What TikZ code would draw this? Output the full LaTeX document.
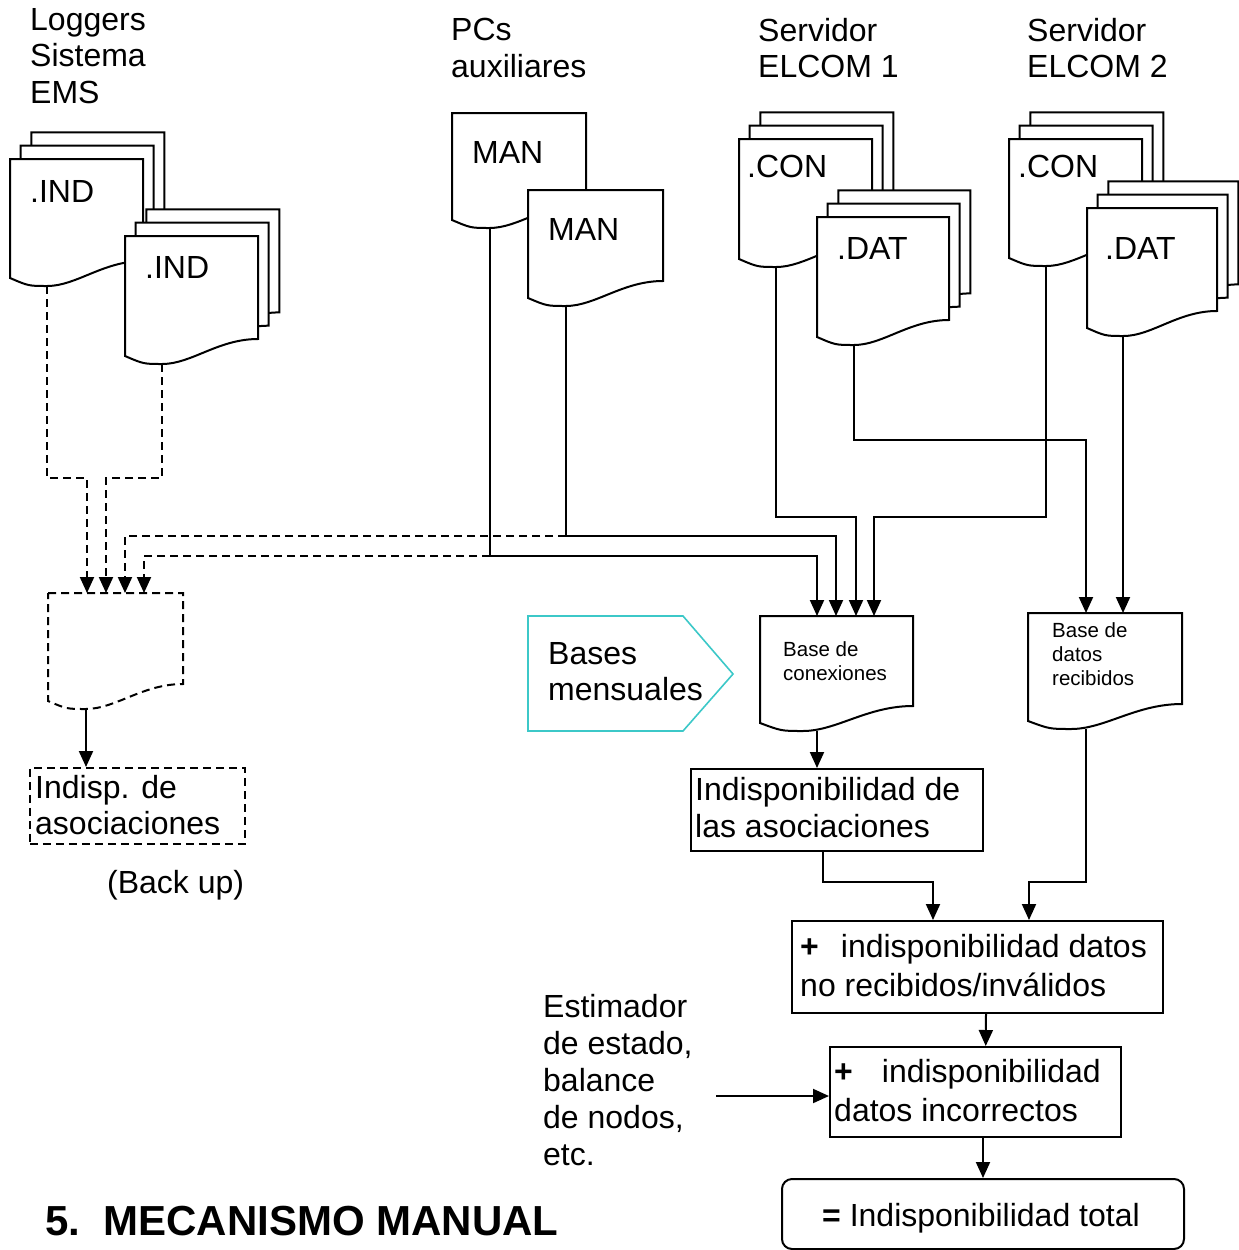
\documentclass[tikz,border=0pt]{standalone}
\usepackage{fontspec}
\setmainfont{Liberation Sans}
\usetikzlibrary{arrows.meta,calc}
\definecolor{tq}{RGB}{60,200,200}
\tikzset{
  sheet/.style={draw, fill=white, line width=2pt},
  line/.style={line width=2pt},
  dsh/.style={dash pattern=on 8pt off 5pt},
  arr/.style={-{Triangle[width=14pt,length=16pt]}},
  box/.style={draw, line width=2pt, inner sep=0pt, anchor=north west},
  txt/.style={inner sep=0pt, align=left, font=\fontsize{32}{36.5}\selectfont},
  smalltxt/.style={inner sep=0pt, align=left, font=\fontsize{20.5}{24}\selectfont},
  pics/docsh/.style n args={2}{code={
    \path[sheet] (0,0) -- (#1,0) -- (#1,#2-17) .. controls (0.7*#1,#2-17) and (0.5*#1,#2+8) .. (0.28*#1,#2+8) .. controls (0.14*#1,#2+8) .. (0,#2) -- cycle;
    \coordinate (-nw) at (0,0);
    \coordinate (-b) at ({round(0.28*#1)},#2+8);
  }},
  pics/docstack/.style n args={2}{code={
    \foreach \k in {2,1}{
      \path[sheet, xshift=10.7*\k, yshift=13.3*\k] (0,0) -- (#1,0) -- (#1,#2-17) .. controls (0.7*#1,#2-17) and (0.5*#1,#2+8) .. (0.28*#1,#2+8) .. controls (0.14*#1,#2+8) .. (0,#2) -- cycle;
    }
    \path[sheet] (0,0) -- (#1,0) -- (#1,#2-17) .. controls (0.7*#1,#2-17) and (0.5*#1,#2+8) .. (0.28*#1,#2+8) .. controls (0.14*#1,#2+8) .. (0,#2) -- cycle;
    \coordinate (-nw) at (0,0);
    \coordinate (-b) at ({round(0.28*#1)},#2+8);
  }},
}
\begin{document}
\begin{tikzpicture}[x=1pt,y=-1pt]
\useasboundingbox (0,0) rectangle (1239,1250);
\clip (0,0) rectangle (1239,1250);

% ---------- documents ----------
\pic (ind1) at (10,159) {docstack={133}{119}};
\pic (ind2) at (125,236) {docstack={133}{120}};
\pic (man1) at (452,113) {docsh={134}{107}};
\pic (man2) at (528,190) {docsh={135}{108}};
\pic (con1) at (739,139) {docstack={133}{120}};
\pic (dat1) at (817,217) {docstack={132}{120}};
\pic (con2) at (1009,139) {docstack={133}{119}};
\pic (dat2) at (1087,208) {docstack={130}{120}};
\pic[dsh] (dd) at (48,593) {docsh={135}{108}};
\pic (bcon) at (760,616) {docsh={153}{107}};
\pic (brec) at (1028,613) {docsh={154}{108}};

% document labels
\node[txt, anchor=base west] (l-ind1) at (30,202) {.IND};
\node[txt, anchor=base west] (l-ind2) at (145,278) {.IND};
\node[txt, anchor=base west] (l-man1) at (472,163) {MAN};
\node[txt, anchor=base west] (l-man2) at (548,240) {MAN};
\node[txt, anchor=base west] (l-con1) at (747,177) {.CON};
\node[txt, anchor=base west] (l-dat1) at (837,259) {.DAT};
\node[txt, anchor=base west] (l-con2) at (1018,177) {.CON};
\node[txt, anchor=base west] (l-dat2) at (1105,259) {.DAT};

% top labels
\node[txt, anchor=north west] (t-log) at (30,8) {Loggers\\Sistema\\EMS};
\node[txt, anchor=north west] (t-pc) at (451,18) {PCs\\auxiliares};
\node[txt, anchor=north west] (t-s1) at (758,18) {Servidor\\ELCOM 1};
\node[txt, anchor=north west] (t-s2) at (1027,18) {Servidor\\ELCOM 2};

% targets on documents
\coordinate (bc1) at ([xshift=57]bcon-nw);
\coordinate (bc2) at ([xshift=76]bcon-nw);
\coordinate (bc3) at ([xshift=96]bcon-nw);
\coordinate (bc4) at ([xshift=114]bcon-nw);
\coordinate (dt1) at ([xshift=39]dd-nw);
\coordinate (dt2) at ([xshift=58]dd-nw);
\coordinate (dt3) at ([xshift=77]dd-nw);
\coordinate (dt4) at ([xshift=96]dd-nw);
\coordinate (br1) at ([xshift=58]brec-nw);

% ---------- connectors top ----------
\draw[line,dsh,arr] (ind1-b) -- ++(0,192) -| (dt1);
\draw[line,dsh,arr] (ind2-b) -- ++(0,114) -| (dt2);
\draw[line,dsh,arr] (man2-b) ++(0,230) -| (dt3);
\draw[line,dsh,arr] (man1-b) ++(0,328) -| (dt4);
\draw[line,arr] (man1-b) -- ++(0,328) -| (bc1);
\draw[line,arr] (man2-b) -- ++(0,230) -| (bc2);
\draw[line,arr] (con1-b) -- ++(0,250) -| (bc3);
\draw[line,arr] (con2-b) -- ++(0,251) -| (bc4);
\draw[line,arr] (dat1-b) -- ++(0,95) -| (br1);
\draw[line,arr] (dat2-b) -- (dat2-b |- brec-nw);

% ---------- Bases mensuales ----------
\draw[tq, line width=1.6pt] (528,616) -- (683,616) -- (733,674) -- (683,731) -- (528,731) -- cycle;
\node[txt, anchor=north west] (t-bm) at (548,642) {Bases\\mensuales};

% base doc labels
\node[smalltxt, anchor=north west] (t-bcon) at (783,641.3) {Base de\\conexiones};
\node[smalltxt, anchor=north west] (t-brec) at (1052,622.3) {Base de\\datos\\recibidos};

% ---------- boxes ----------
\node[box, dsh, line width=1.5pt, minimum width=215, minimum height=76] (idb) at (29,767) {};
\node[txt, anchor=north west] (t-idb) at (35,775) {Indisp. de\\asociaciones};
\node[txt, anchor=base west] (t-bu) at (107,893) {(Back up)};

\node[box, minimum width=292, minimum height=82] (asoc) at (690,768) {};
\node[txt, anchor=north west, font=\fontsize{32}{37}\selectfont] (t-asoc) at (695,777) {Indisponibilidad de\\las asociaciones};

\node[box, minimum width=371, minimum height=92] (b1) at (791,920) {};
\node[txt, anchor=north west, font=\fontsize{32}{39}\selectfont] (t-b1) at (800,934) {\textbf{+}\hspace{22pt}indisponibilidad datos\\no recibidos/inválidos};

\node[box, line width=1.5pt, minimum width=291, minimum height=90] (b2) at (829,1046) {};
\node[txt, anchor=north west, font=\fontsize{32}{39}\selectfont] (t-b2) at (834,1059) {\textbf{+}\hspace{29pt}indisponibilidad\\datos incorrectos};

\node[box, rounded corners=10pt, minimum width=402, minimum height=70] (b3) at (781,1178) {};
\node[txt, anchor=base west] (t-b3) at (822,1226) {\textbf{=} Indisponibilidad total};

\node[txt, anchor=north west, font=\fontsize{32}{37}\selectfont] (t-est) at (543,994) {Estimador\\de estado,\\balance\\de nodos,\\etc.};
\node[inner sep=0pt, anchor=base west, font=\fontsize{42}{50}\selectfont\bfseries] (title) at (45,1235) {5.\ \ MECANISMO MANUAL};

% ---------- connectors bottom ----------
\draw[line,arr] (dd-b) -- (dd-b |- idb.north);
\coordinate (bcout) at ([xshift=14]bcon-b);
\draw[line,arr] (bcout) -- (bcout |- asoc.north);
\draw[line,arr] ([xshift=-14]asoc.south) -- ++(0,30) -| ([xshift=-44.5]b1.north);
\coordinate (brout) at ([xshift=15]brec-b);
\draw[line,arr] (brout) -- ++(0,153) -| ([xshift=51.5]b1.north);
\draw[line,arr] ([xshift=8.5]b1.south) -- ([xshift=10.5]b2.north);
\draw[line,arr] (b3.north |- b2.south) -- (b3.north);
\coordinate (est) at (716,1096);
\draw[line,arr] (est) -- (est -| b2.west);
\end{tikzpicture}
\end{document}
